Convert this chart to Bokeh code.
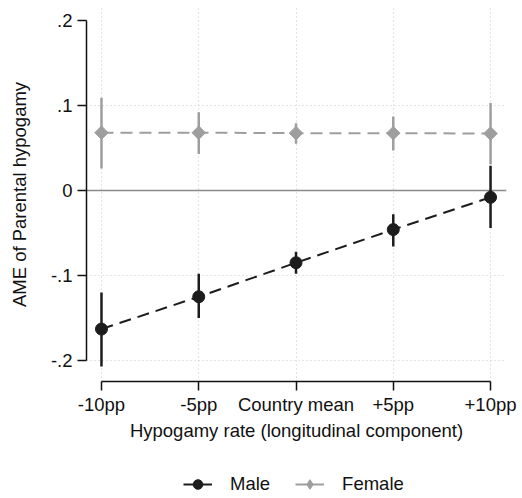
import numpy as np
from bokeh.plotting import figure
from bokeh.layouts import column
from bokeh.models import Range1d, FixedTicker, Span, Legend, LegendItem
from bokeh.embed import file_html
from bokeh.resources import INLINE

# ---- data ----
x_pos = [-10, -5, 0, 5, 10]
x_labels = ["-10pp", "-5pp", "Country mean", "+5pp", "+10pp"]

male_est = [-0.163, -0.125, -0.085, -0.046, -0.008]
male_lo = [-0.207, -0.150, -0.098, -0.066, -0.044]
male_hi = [-0.120, -0.098, -0.072, -0.028, 0.029]

female_est = [0.068, 0.068, 0.0675, 0.0675, 0.067]
female_lo = [0.026, 0.043, 0.055, 0.047, 0.031]
female_hi = [0.109, 0.092, 0.079, 0.087, 0.103]

y_ticks = [-0.2, -0.1, 0, 0.1, 0.2]
y_tick_labels = ["-.2", "-.1", "0", ".1", ".2"]
series_names = ["Male", "Female"]

FONT = "Liberation Sans"
FS = "18.5px"
MALE_C = "#1c1c1c"
FEMALE_C = "#9e9e9e"
TXT = "#111111"
DASH = "12 7"

p = figure(width=522, height=455,
           x_range=Range1d(-10.77, 10.82), y_range=Range1d(-0.2247, 0.2153),
           output_backend="svg", toolbar_location=None,
           min_border_left=86, min_border_right=16, min_border_top=7,
           min_border_bottom=74)
p.outline_line_color = None
p.background_fill_color = "white"

# axes
p.xaxis.ticker = FixedTicker(ticks=x_pos)
p.xaxis.major_label_overrides = {x: l for x, l in zip(x_pos, x_labels)}
p.xaxis.bounds = (x_pos[0], x_pos[-1])
p.yaxis.ticker = FixedTicker(ticks=y_ticks)
p.yaxis.major_label_overrides = {y: l for y, l in zip(y_ticks, y_tick_labels)}
p.yaxis.bounds = (y_ticks[0], y_ticks[-1])

for ax in (p.xaxis, p.yaxis):
    ax.axis_line_color = "#111111"
    ax.axis_line_width = 1.5
    ax.major_tick_line_color = "#111111"
    ax.major_tick_line_width = 1.5
    ax.major_tick_out = 9
    ax.major_tick_in = 0
    ax.minor_tick_line_color = None
    ax.major_label_text_font = FONT
    ax.major_label_text_font_size = FS
    ax.major_label_text_color = TXT
    ax.axis_label_text_font = FONT
    ax.axis_label_text_font_size = FS
    ax.axis_label_text_font_style = "normal"
    ax.axis_label_text_color = TXT

p.xaxis.axis_label = "Hypogamy rate (longitudinal component)"
p.yaxis.axis_label = "AME of Parental hypogamy"
p.xaxis.major_label_standoff = 3
p.xaxis.axis_label_standoff = 2
p.yaxis.major_label_standoff = 5
p.yaxis.axis_label_standoff = 18
p.yaxis.major_label_orientation = "horizontal"

# grids
p.xgrid.grid_line_color = "#c8c8c8"
p.xgrid.grid_line_dash = "1 3"
p.xgrid.grid_line_width = 1
p.ygrid.ticker = FixedTicker(ticks=[-0.2, -0.1, 0.1])
p.ygrid.grid_line_color = "#c8c8c8"
p.ygrid.grid_line_dash = "1 3"
p.ygrid.grid_line_width = 1

zero = Span(location=0, dimension="width", line_color="#8a8a8a",
            line_width=1.5, level="underlay")
p.add_layout(zero)

# male
p.segment(x0=x_pos, y0=male_lo, x1=x_pos, y1=male_hi,
          line_color=MALE_C, line_width=2.5)
p.line(x_pos, male_est, line_color=MALE_C, line_width=2, line_dash=DASH)
p.scatter(x_pos, male_est, marker="circle", size=12,
          fill_color=MALE_C, line_color=MALE_C)

# female
p.segment(x0=x_pos, y0=female_lo, x1=x_pos, y1=female_hi,
          line_color=FEMALE_C, line_width=2.5)
p.line(x_pos, female_est, line_color=FEMALE_C, line_width=2, line_dash=DASH)
p.scatter(x_pos, female_est, marker="square", angle=np.pi / 4, size=9.5,
          fill_color=FEMALE_C, line_color=FEMALE_C)

# ---- legend strip below the chart ----
lf = figure(width=522, height=43, x_range=Range1d(0, 1), y_range=Range1d(0, 1),
            output_backend="svg", toolbar_location=None,
            x_axis_type=None, y_axis_type=None,
            min_border_left=0, min_border_right=0, min_border_top=0,
            min_border_bottom=0)
lf.outline_line_color = None
lf.grid.visible = False

nan = [np.nan]
m_l = lf.line(nan, nan, line_color=MALE_C, line_width=2)
m_m = lf.scatter(nan, nan, marker="circle", size=10,
                 fill_color=MALE_C, line_color=MALE_C)
f_l = lf.line(nan, nan, line_color=FEMALE_C, line_width=2)
f_m = lf.scatter(nan, nan, marker="diamond", size=10,
                 fill_color=FEMALE_C, line_color=FEMALE_C)

legend = Legend(items=[LegendItem(label=series_names[0], renderers=[m_l, m_m]),
                       LegendItem(label=series_names[1], renderers=[f_l, f_m])],
                orientation="horizontal", location=(97, 2),
                border_line_color=None, background_fill_alpha=0,
                glyph_width=29, glyph_height=24, label_height=24,
                label_standoff=18, spacing=25, padding=0, margin=0,
                label_text_font=FONT, label_text_font_size=FS,
                label_text_color=TXT)
lf.add_layout(legend)

layout = column(p, lf, spacing=0)
open("out.html", "w").write(file_html(layout, INLINE))
